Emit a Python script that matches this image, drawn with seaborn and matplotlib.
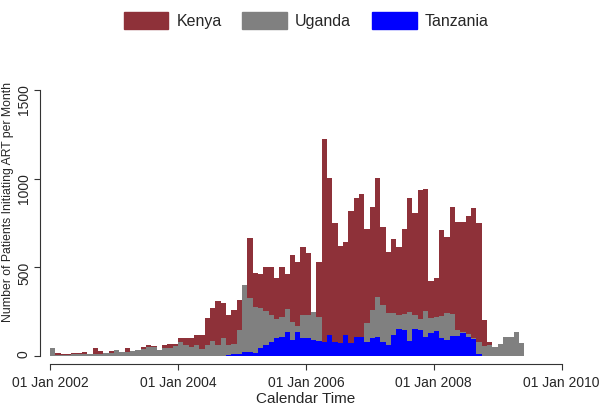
import numpy as np
import pandas as pd
import matplotlib
matplotlib.use('Agg')
import matplotlib.pyplot as plt
import matplotlib.transforms as mtransforms
from matplotlib.patches import Patch
import seaborn as sns

# --- Data: patients initiating ART per month, Jan 2002 onwards ---
START_MONTH = '2002-01'
kenya = [0, 13, 9, 9, 13, 17, 20, 9, 43, 26, 17, 26,
         20, 19, 43, 28, 35, 47, 58, 55, 32, 58, 66, 66,
         98, 98, 98, 117, 117, 211, 268, 310, 298, 231, 258, 312,
         380, 665, 469, 463, 503, 503, 441, 503, 461, 567, 531, 611,
         581, 200, 531, 1224, 1001, 750, 618, 640, 817, 891, 911, 716,
         840, 1005, 725, 587, 657, 611, 716, 889, 806, 938, 943, 424,
         439, 712, 668, 842, 757, 755, 790, 836, 748, 201, 79, 48,
         0, 0, 0, 0, 0]
uganda = [43, 5, 5, 6, 8, 8, 10, 8, 10, 12, 15, 15,
          30, 20, 22, 28, 35, 38, 50, 50, 32, 43, 45, 55,
          75, 58, 50, 58, 40, 58, 85, 58, 100, 62, 66, 147,
          401, 324, 277, 271, 252, 230, 205, 220, 262, 188, 168, 230,
          230, 249, 217, 80, 60, 60, 65, 55, 50, 60, 55, 183,
          260, 332, 284, 241, 239, 232, 233, 245, 232, 210, 250, 215,
          220, 225, 240, 235, 145, 136, 122, 98, 75, 55, 60, 51,
          64, 104, 104, 136, 73]
tanzania = [0] * 33 + [3, 8, 12,
            23, 20, 13, 41, 60, 75, 100, 104, 132, 88, 132, 100,
            100, 88, 85, 79, 117, 79, 70, 117, 72, 107, 107, 80,
            98, 107, 75, 60, 117, 149, 145, 85, 149, 145, 104, 126,
            141, 100, 90, 110, 110, 126, 107, 92, 12, 0, 0, 0,
            0, 0, 0, 0, 0]
countries = ['Kenya', 'Uganda', 'Tanzania']
colors = ['#8E3139', '#808080', '#0000FF']
tick_years = [2002, 2004, 2006, 2008, 2010]
tick_labels = ['01 Jan %d' % y for y in tick_years]

months = pd.period_range(START_MONTH, periods=len(kenya), freq='M')
# month index of each bar, +0.5 so it falls inside its monthly bin
df = pd.DataFrame({'month': np.arange(len(months)) + 0.5,
                   'Kenya': kenya, 'Uganda': uganda, 'Tanzania': tanzania})

sns.set_style('white')
plt.rcParams['font.family'] = ['Liberation Sans', 'DejaVu Sans']

fig = plt.figure(figsize=(6, 4.11), dpi=100)
ax = fig.add_axes([0.0833, 0.1345, 0.8528, 0.6465])

# Kenya drawn first, then Uganda and Tanzania overlaid in front
for name, col in zip(countries, colors):
    sns.histplot(data=df, x='month', weights=name, binwidth=1,
                 binrange=(0, len(months)), ax=ax,
                 color=col, alpha=1, linewidth=0, fill=True)

ax.set_xlim(0, 96)
ax.set_ylim(0, 1500)
xt = [(y - 2002) * 12 for y in tick_years]
ax.set_xticks(xt)
ax.set_xticklabels(tick_labels, fontsize=11)
ax.set_yticks([0, 500, 1000, 1500])
ax.set_yticklabels(['0', '500', '1000', '1500'], fontsize=11)
ax.tick_params(axis='y', labelrotation=90, pad=2)
for lab in ax.get_yticklabels():
    lab.set_va('center')
ax.tick_params(axis='x', pad=4)
ax.tick_params(axis='both', direction='out', length=4.5, width=0.8,
               color='#333333', left=True, bottom=True)
# last date label nudged left so it stays on the canvas
last = ax.get_xticklabels()[-1]
last.set_transform(last.get_transform() +
                   mtransforms.ScaledTranslation(-10 / 100, 0, fig.dpi_scale_trans))

ax.set_xlabel('Calendar Time', fontsize=11, labelpad=1)
ax.set_ylabel('Number of Patients Initiating ART per Month', fontsize=8.8)
ax.yaxis.set_label_coords(-0.07, 0.578)

sns.despine(ax=ax, offset={'left': 7.2, 'bottom': 6.2})
for s in ['left', 'bottom']:
    ax.spines[s].set_linewidth(0.8)
    ax.spines[s].set_color('#333333')

handles = [Patch(facecolor=c, edgecolor=c) for c in colors]
fig.legend(handles, countries, loc='upper center', ncol=3, frameon=False,
           fontsize=11.5, handlelength=2.8, handleheight=1.2,
           columnspacing=1.3, handletextpad=0.5,
           bbox_to_anchor=(0.51, 1.005))

fig.savefig('out.png', dpi=100, facecolor='white')
